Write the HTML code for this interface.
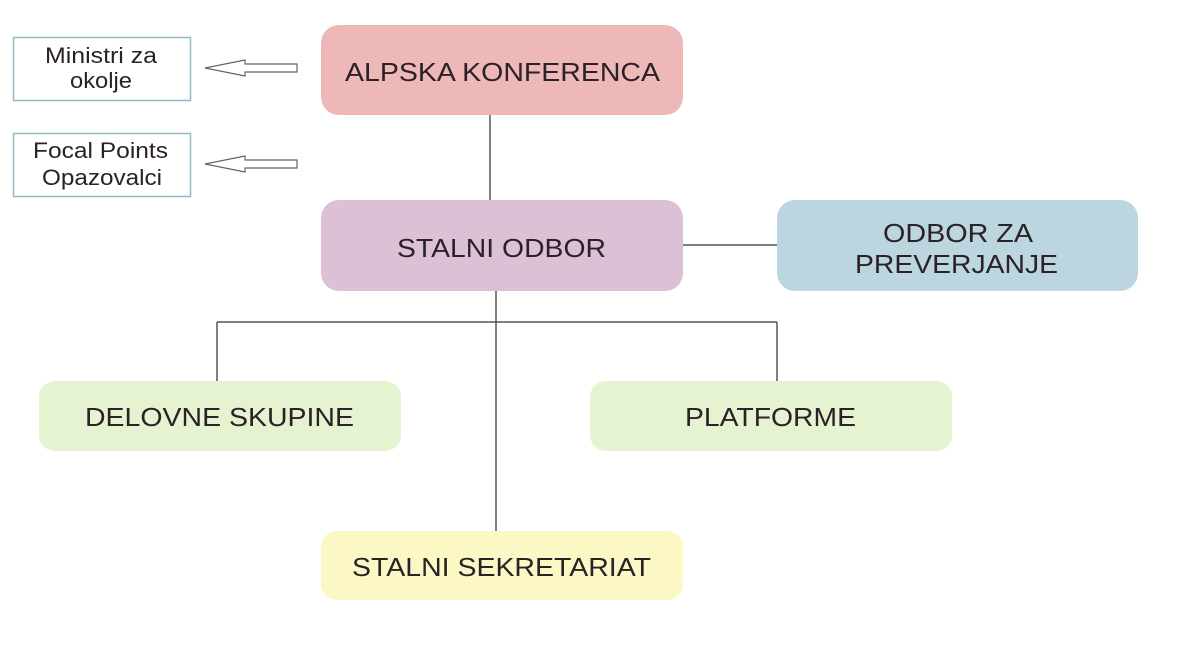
<!DOCTYPE html>
<html><head><meta charset="utf-8"><style>
html,body{margin:0;padding:0;background:#fff;}
svg{display:block;}
text{font-family:"Liberation Sans",Arial,sans-serif;fill:#2a2226;}
</style></head><body>
<svg width="1188" height="645" viewBox="0 0 1188 645" xmlns="http://www.w3.org/2000/svg">
<g stroke="#555" stroke-width="1.5" fill="none">
<line x1="490" y1="115" x2="490" y2="200"/>
<line x1="683" y1="245" x2="777" y2="245"/>
<line x1="496" y1="290" x2="496" y2="531"/>
<line x1="217" y1="322" x2="777" y2="322"/>
<line x1="217" y1="322" x2="217" y2="381"/>
<line x1="777" y1="322" x2="777" y2="381"/>
</g>
<rect x="13.5" y="37.5" width="177" height="63" fill="#fff" stroke="#8fbcc4" stroke-width="1.5"/>
<rect x="13.5" y="133.5" width="177" height="63" fill="#fff" stroke="#8fbcc4" stroke-width="1.5"/>
<g font-size="22">
<text x="45" y="63" textLength="112" lengthAdjust="spacingAndGlyphs">Ministri za</text>
<text x="70" y="88" textLength="62" lengthAdjust="spacingAndGlyphs">okolje</text>
<text x="33" y="158" textLength="135" lengthAdjust="spacingAndGlyphs">Focal Points</text>
<text x="42" y="185" textLength="120" lengthAdjust="spacingAndGlyphs">Opazovalci</text>
</g>
<g fill="#fff" stroke="#666" stroke-width="1.2">
<polygon points="205,68 245,60 245,64 297,64 297,72 245,72 245,76"/>
<polygon points="205,164 245,156 245,160 297,160 297,168 245,168 245,172"/>
</g>
<rect x="321" y="25" width="362" height="90" rx="18" fill="#efb8b8"/>
<rect x="321" y="200" width="362" height="91" rx="18" fill="#dcc0d6"/>
<rect x="777" y="200" width="361" height="91" rx="18" fill="#bcd6e0"/>
<rect x="39" y="381" width="362" height="70" rx="16" fill="#e6f3d0"/>
<rect x="590" y="381" width="362" height="70" rx="16" fill="#e6f3d0"/>
<rect x="321" y="531" width="362" height="69" rx="16" fill="#fcf8c6"/>
<g font-size="26">
<text x="345" y="81" textLength="315" lengthAdjust="spacingAndGlyphs">ALPSKA KONFERENCA</text>
<text x="397" y="257" textLength="209" lengthAdjust="spacingAndGlyphs">STALNI ODBOR</text>
<text x="883" y="242" textLength="150" lengthAdjust="spacingAndGlyphs">ODBOR ZA</text>
<text x="855" y="273" textLength="203" lengthAdjust="spacingAndGlyphs">PREVERJANJE</text>
<text x="85" y="426" textLength="269" lengthAdjust="spacingAndGlyphs">DELOVNE SKUPINE</text>
<text x="685" y="426" textLength="171" lengthAdjust="spacingAndGlyphs">PLATFORME</text>
<text x="352" y="576" textLength="299" lengthAdjust="spacingAndGlyphs">STALNI SEKRETARIAT</text>
</g>
</svg>
</body></html>
